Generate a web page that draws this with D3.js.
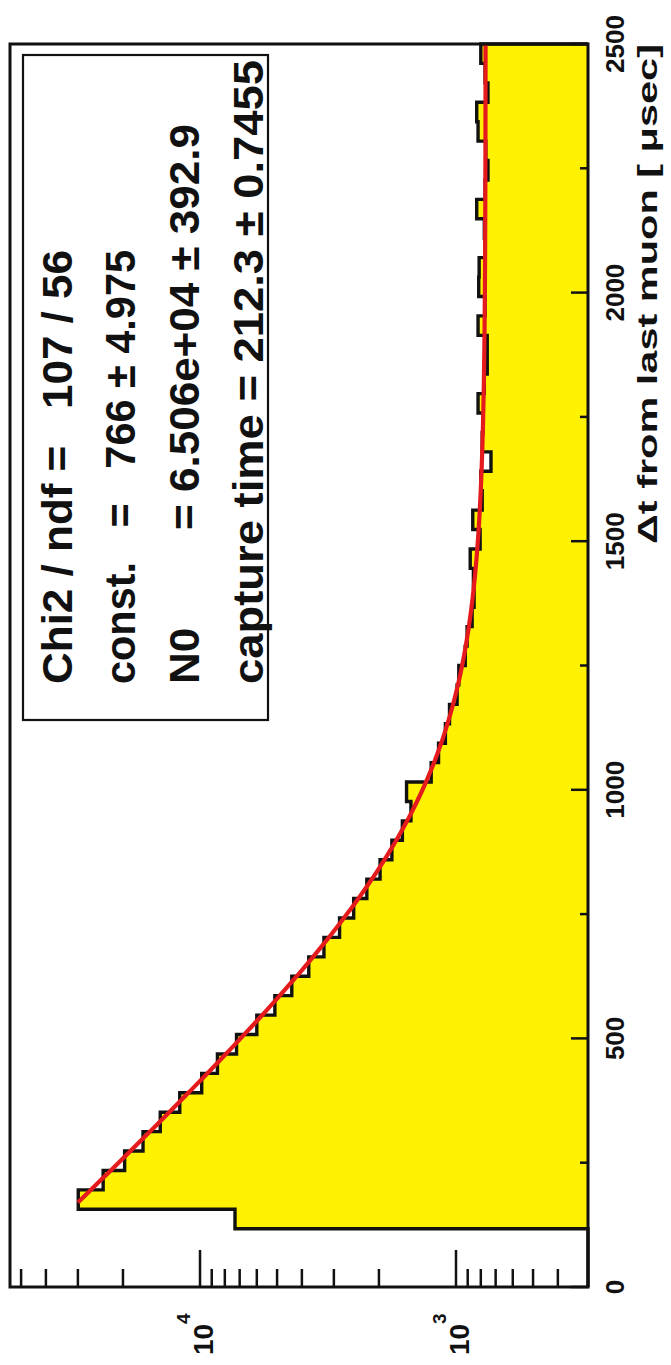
<!DOCTYPE html>
<html>
<head>
<meta charset="utf-8">
<script src="https://cdn.jsdelivr.net/npm/d3@7"></script>
<style>
  html, body { margin: 0; padding: 0; background: #ffffff; }
  svg { display: block; }
  text { font-family: "Liberation Sans", Arial, Helvetica, sans-serif; font-weight: bold; fill: #111; }
</style>
</head>
<body>
<svg id="chart" width="671" height="1365"></svg>
<script>
// Histogram of time since the last muon (64 bins over 0..2500 usec)
const xRange = [0, 2500];
const nBins = 64;
const counts = [
  0, 0, 0, 7300, 29900, 23900, 19700, 16700, 14300, 12000,
  9850, 8550, 7200, 6000, 5100, 4380, 3760, 3280, 2850, 2510,
  2230, 1980, 1780, 1620, 1500, 1560, 1250, 1170, 1100, 1060,
  990, 975, 920, 905, 865, 850, 855, 880, 805, 860,
  790, 800, 730, 790, 785, 820, 775, 755, 755, 820,
  770, 815, 812, 770, 775, 830, 770, 750, 765, 820,
  830, 750, 770, 800
];

// Fit: const + N0 * exp(-t / capture time)
const fitConst = 766;
const fitN0 = 6.506e4;
const fitTau = 212.3;
const fitRange = [170, 2500];

// Axis ticks and labels
const xMajorTicks = [0, 500, 1000, 1500, 2000, 2500];
const xMinorTicks = [250, 750, 1250, 1750, 2250];
const xTickLabels = ["0", "500", "1000", "1500", "2000", "2500"];
const yRange = [305, 55250];
const yMajorTicks = [1000, 10000];
const yMajorExponents = ["3", "4"];
const yMinorTicks = [400, 500, 600, 700, 800, 900, 2000, 3000, 4000, 5000, 6000, 7000, 8000, 9000, 20000, 30000, 40000, 50000];
const xTitle = "\u0394t from last muon [ \u03bcsec]";

// Fit statistics box
const statsLines = [
  "Chi2 / ndf =   107 / 56",
  "const.   =   766 \u00b1 4.975",
  "N0        = 6.506e+04 \u00b1 392.9",
  "capture time = 212.3 \u00b1 0.7455"
];

// The figure is laid out in landscape (W x H) and turned a quarter turn counter-clockwise.
const W = 1365, H = 671;
const plot = { left: 78, right: 1321, top: 10, bottom: 588 };

const svg = d3.select("#chart");
svg.append("rect").attr("width", 671).attr("height", 1365).attr("fill", "#ffffff");

const g = svg.append("g").attr("transform", `translate(0,${W}) rotate(-90)`);

const x = d3.scaleLinear().domain(xRange).range([plot.left, plot.right]);
const y = d3.scaleLog().domain(yRange).range([plot.bottom, plot.top]);

// Histogram (filled step outline)
const bw = (xRange[1] - xRange[0]) / nBins;
const yVal = v => v > 0 ? Math.max(plot.top, Math.min(plot.bottom, y(v))) : plot.bottom;
const pts = [[x(xRange[0]), plot.bottom]];
counts.forEach((c, i) => {
  const lo = xRange[0] + i * bw, hi = lo + bw;
  pts.push([x(lo), yVal(c)]);
  pts.push([x(hi), yVal(c)]);
});
pts.push([x(xRange[1]), plot.bottom]);

g.append("path")
  .attr("d", d3.line()(pts) + "Z")
  .attr("fill", "#fff200")
  .attr("stroke", "none");
g.append("path")
  .attr("d", d3.line()(pts))
  .attr("fill", "none")
  .attr("stroke", "#111")
  .attr("stroke-width", 3.4)
  .attr("stroke-linejoin", "miter");

// Fit curve
const fitFn = t => fitConst + fitN0 * Math.exp(-t / fitTau);
const ts = d3.range(fitRange[0], fitRange[1] + 0.1, 5);
g.append("path")
  .attr("d", d3.line().x(t => x(t)).y(t => y(fitFn(t))).curve(d3.curveLinear)(ts))
  .attr("fill", "none")
  .attr("stroke", "#e41a1c")
  .attr("stroke-width", 4.2);

// Frame
g.append("rect")
  .attr("x", plot.left).attr("y", plot.top)
  .attr("width", plot.right - plot.left).attr("height", plot.bottom - plot.top)
  .attr("fill", "none").attr("stroke", "#111").attr("stroke-width", 3);

// X axis ticks (inward) and labels
const xTickLen = 17, xMinorLen = 8;
g.selectAll(".xmaj").data(xMajorTicks).enter().append("line")
  .attr("x1", d => x(d)).attr("x2", d => x(d))
  .attr("y1", plot.bottom).attr("y2", plot.bottom - xTickLen)
  .attr("stroke", "#111").attr("stroke-width", 2.5);
g.selectAll(".xmin").data(xMinorTicks).enter().append("line")
  .attr("x1", d => x(d)).attr("x2", d => x(d))
  .attr("y1", plot.bottom).attr("y2", plot.bottom - xMinorLen)
  .attr("stroke", "#111").attr("stroke-width", 2.5);
g.selectAll(".xlab").data(xMajorTicks).enter().append("text")
  .attr("x", d => x(d)).attr("y", 624)
  .attr("text-anchor", "middle")
  .attr("font-size", 26)
  .text((d, i) => xTickLabels[i]);

g.append("text")
  .attr("x", plot.right).attr("y", 657)
  .attr("text-anchor", "end")
  .attr("font-size", 27)
  .attr("textLength", 500)
  .attr("lengthAdjust", "spacingAndGlyphs")
  .text(xTitle);

// Y axis ticks (inward, log) and labels
const yTickLen = 37, yMinorLen = 18;
g.selectAll(".ymaj").data(yMajorTicks).enter().append("line")
  .attr("x1", plot.left).attr("x2", plot.left + yTickLen)
  .attr("y1", d => y(d)).attr("y2", d => y(d))
  .attr("stroke", "#111").attr("stroke-width", 2.5);
g.selectAll(".ymin").data(yMinorTicks).enter().append("line")
  .attr("x1", plot.left).attr("x2", plot.left + yMinorLen)
  .attr("y1", d => y(d)).attr("y2", d => y(d))
  .attr("stroke", "#111").attr("stroke-width", 2.5);
const ylab = g.selectAll(".ylab").data(yMajorTicks).enter().append("g");
ylab.append("text")
  .attr("x", 10).attr("y", d => y(d) + 13)
  .attr("font-size", 28)
  .text("10");
ylab.append("text")
  .attr("x", 41).attr("y", d => y(d) - 10)
  .attr("font-size", 19)
  .text((d, i) => yMajorExponents[i]);

// Stats box
const box = { x0: 645, x1: 1310, y0: 23, y1: 268 };
g.append("rect")
  .attr("x", box.x0).attr("y", box.y0)
  .attr("width", box.x1 - box.x0).attr("height", box.y1 - box.y0)
  .attr("fill", "#ffffff").attr("stroke", "#111").attr("stroke-width", 2.2);
const baselines = [72, 135, 199, 263];
const lineLengths = [434, 434, 560, 624];
g.selectAll(".stat").data(statsLines).enter().append("text")
  .attr("x", 681).attr("y", (d, i) => baselines[i])
  .attr("font-size", 42)
  .attr("xml:space", "preserve")
  .attr("textLength", (d, i) => lineLengths[i])
  .attr("lengthAdjust", "spacingAndGlyphs")
  .style("white-space", "pre")
  .text(d => d);
</script>
</body>
</html>
